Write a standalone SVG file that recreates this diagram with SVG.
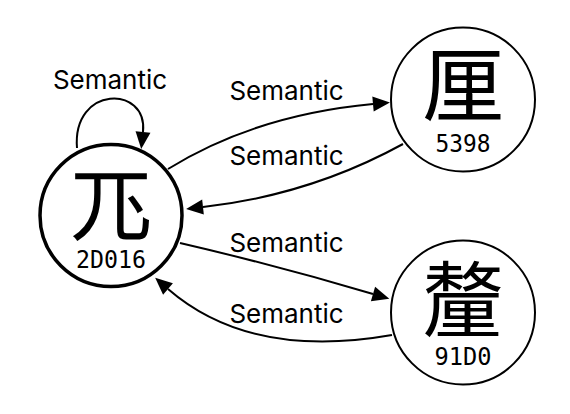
<svg xmlns="http://www.w3.org/2000/svg" width="570" height="414" viewBox="0 0 570 414">
<style>
.node circle{fill:#fff;stroke:#000;stroke-width:2}
.node.root circle{stroke-width:3.5}
.han{font-family:"Noto Sans CJK SC","Noto Sans CJK JP",sans-serif;font-size:82px;text-anchor:middle;fill:#000}
.code{font-family:"DejaVu Sans Mono",monospace;font-size:24px;text-anchor:middle;fill:#000}
.edge{fill:none;stroke:#000;stroke-width:2}
.lbl{font-family:Inter,"Liberation Sans",sans-serif;font-size:26px;text-anchor:middle;fill:#000}
</style>
<defs>
<marker id="arr" markerUnits="userSpaceOnUse" markerWidth="18" markerHeight="16" refX="0" refY="7.5" orient="auto" overflow="visible">
<path d="M0,0 L17,7.5 L0,15 z" fill="#000"/>
</marker>
</defs>
<g id="connectors">
<path class="edge" d="M77,148 C72,85 148,85 143,132" marker-end="url(#arr)"/>
<path class="edge" d="M168,169 Q255,115 373,104" marker-end="url(#arr)"/>
<path class="edge" d="M403,144 Q310,195 203,207" marker-end="url(#arr)"/>
<path class="edge" d="M180,243 Q275,265 373,294" marker-end="url(#arr)"/>
<path class="edge" d="M392,335 Q250,360 168,289" marker-end="url(#arr)"/>
<text class="lbl" x="110" y="89">Semantic</text>
<text class="lbl" x="286.5" y="100">Semantic</text>
<text class="lbl" x="286.5" y="165">Semantic</text>
<text class="lbl" x="286.5" y="252">Semantic</text>
<text class="lbl" x="286.5" y="323">Semantic</text>
</g>
<g id="n2D016" class="node root">
<circle cx="111" cy="215.5" r="71"/>
<text class="han" x="111" y="234">𭀖</text>
<text class="code" x="111" y="268" textLength="70" lengthAdjust="spacingAndGlyphs">2D016</text>
</g>
<g id="n5398" class="node">
<circle cx="463" cy="99.5" r="72"/>
<text class="han" x="463" y="115">厘</text>
<text class="code" x="463" y="152" textLength="55" lengthAdjust="spacingAndGlyphs">5398</text>
</g>
<g id="n91D0" class="node">
<circle cx="463" cy="312.5" r="72"/>
<text class="han" x="463" y="330">釐</text>
<text class="code" x="463" y="365" textLength="57" lengthAdjust="spacingAndGlyphs">91D0</text>
</g>
</svg>
